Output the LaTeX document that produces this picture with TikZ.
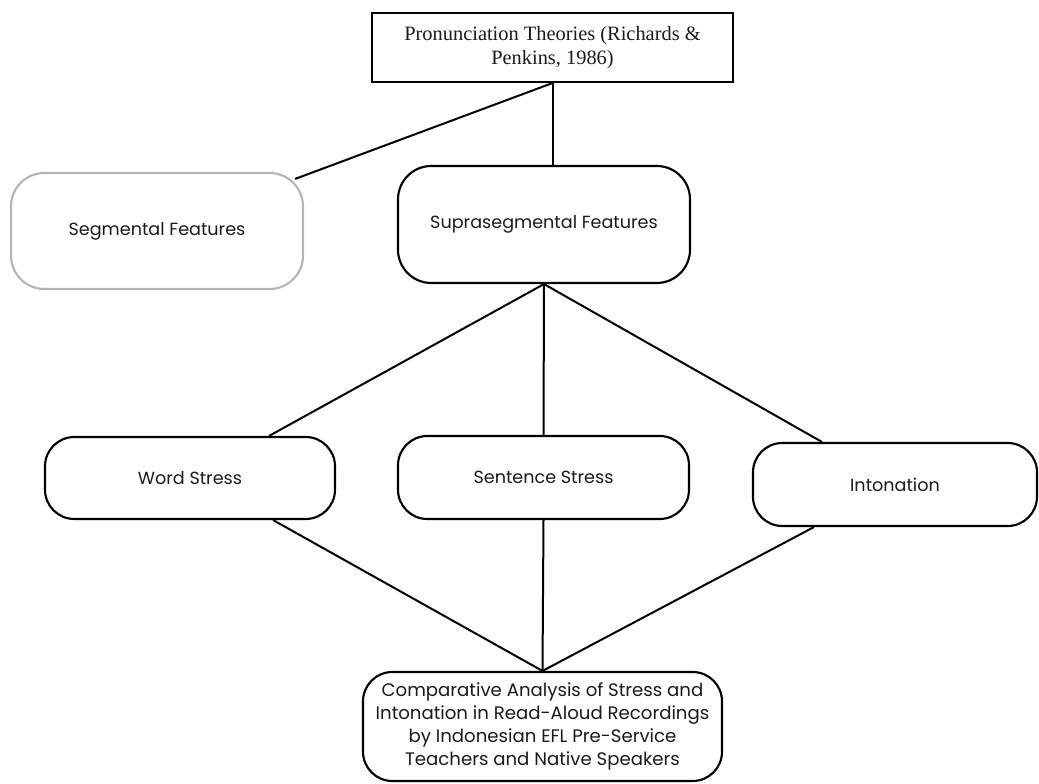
\documentclass[tikz,border=0pt]{standalone}
\usepackage{fontspec}
\setmainfont{Poppins}
\newfontfamily\serifbox{Liberation Serif}
\definecolor{boxgray}{HTML}{B5B5B5}
\definecolor{ink}{HTML}{1A1A1A}
\begin{document}
\begin{tikzpicture}[x=0.75pt,y=-0.75pt,
  box/.style={draw=black, line width=1.6pt, rounded corners=22pt, align=center, inner sep=0pt,
    text=ink, font=\fontsize{13.2}{17.25}\selectfont},
  graybox/.style={box, draw=boxgray},
  titlebox/.style={draw=black, line width=1.6pt, align=center, inner sep=0pt, text=ink,
    font=\serifbox\fontsize{15.3}{18}\selectfont},
  conn/.style={line width=1.5pt, draw=black}]
\useasboundingbox (0,0) rectangle (1039,784);
\node[titlebox, minimum width=270.75pt, minimum height=51.75pt] (top) at (552.5,47.5)
  {Pronunciation Theories (Richards \&\\Penkins, 1986)};
\node[graybox, minimum width=219pt, minimum height=87pt, rounded corners=25pt] (seg) at (157,231)
  {Segmental Features};
\node[box, minimum width=219pt, minimum height=87.75pt, rounded corners=25pt] (supra) at (544,224.5)
  {Suprasegmental Features};
\node[box, minimum width=217.5pt, minimum height=61.5pt] (word) at (190,478)
  {Word Stress};
\node[box, minimum width=218.25pt, minimum height=62.25pt] (sent) at (543.5,477.5)
  {Sentence Stress};
\node[box, minimum width=213pt, minimum height=62.25pt] (inton) at (895,484.5)
  {Intonation};
\node[box, minimum width=269.25pt, minimum height=81.75pt, font=\fontsize{13.6}{17.25}\selectfont] (bot) at (542.5,726.5)
  {Comparative Analysis of Stress and\\Intonation in Read-Aloud Recordings\\by Indonesian EFL Pre-Service\\Teachers and Native Speakers};
% connectors
\draw[conn] (top.south) -- ([xshift=-6.75pt,yshift=-5.25pt]seg.north east);
\draw[conn] (top.south) -- (top.south |- supra.north);
\draw[conn] (supra.south) -- ([xshift=-50.25pt]word.north east);
\draw[conn] (supra.south) -- (sent.north);
\draw[conn] (supra.south) -- ([xshift=52.5pt]inton.north west);
\draw[conn] ([xshift=-47.25pt]word.south east) -- (bot.north);
\draw[conn] (sent.south) -- (bot.north);
\draw[conn] ([xshift=46.5pt]inton.south west) -- (bot.north);
\end{tikzpicture}
\end{document}
